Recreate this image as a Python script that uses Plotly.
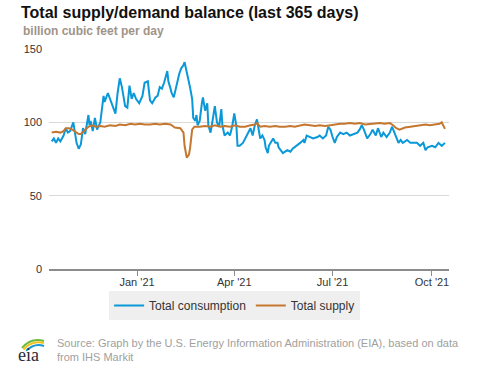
import plotly.graph_objects as go

# ---------------- data ----------------
consumption_dates = [
    "2020-10-14", "2020-10-16", "2020-10-18", "2020-10-20", "2020-10-22", "2020-10-25",
    "2020-10-27", "2020-10-29", "2020-10-31", "2020-11-03", "2020-11-06", "2020-11-08",
    "2020-11-10", "2020-11-12", "2020-11-14", "2020-11-17", "2020-11-18", "2020-11-19",
    "2020-11-21", "2020-11-23", "2020-11-25", "2020-11-28", "2020-12-01", "2020-12-02",
    "2020-12-05", "2020-12-08", "2020-12-12", "2020-12-14", "2020-12-16", "2020-12-18",
    "2020-12-21", "2020-12-23", "2020-12-25", "2020-12-27", "2020-12-29", "2020-12-31",
    "2021-01-03", "2021-01-06", "2021-01-08", "2021-01-11", "2021-01-13", "2021-01-15",
    "2021-01-18", "2021-01-20", "2021-01-22", "2021-01-24", "2021-01-26", "2021-01-29",
    "2021-01-30", "2021-02-01", "2021-02-02", "2021-02-04", "2021-02-07", "2021-02-09",
    "2021-02-11", "2021-02-13", "2021-02-14", "2021-02-16", "2021-02-17", "2021-02-19",
    "2021-02-21", "2021-02-22", "2021-02-24", "2021-02-25", "2021-02-26", "2021-02-28",
    "2021-03-02", "2021-03-03", "2021-03-05", "2021-03-07", "2021-03-08", "2021-03-10",
    "2021-03-11", "2021-03-14", "2021-03-16", "2021-03-18", "2021-03-20", "2021-03-21",
    "2021-03-23", "2021-03-26", "2021-03-28", "2021-03-30", "2021-04-01", "2021-04-03",
    "2021-04-04", "2021-04-06", "2021-04-09", "2021-04-13", "2021-04-16", "2021-04-18",
    "2021-04-20", "2021-04-22", "2021-04-23", "2021-04-25", "2021-04-27", "2021-04-29",
    "2021-04-30", "2021-05-02", "2021-05-03", "2021-05-06", "2021-05-07", "2021-05-09",
    "2021-05-11", "2021-05-12", "2021-05-15", "2021-05-16", "2021-05-20", "2021-05-23",
    "2021-05-25", "2021-05-29", "2021-06-01", "2021-06-04", "2021-06-05", "2021-06-07",
    "2021-06-10", "2021-06-13", "2021-06-17", "2021-06-19", "2021-06-22", "2021-06-25",
    "2021-06-27", "2021-06-29", "2021-07-01", "2021-07-03", "2021-07-05", "2021-07-08",
    "2021-07-11", "2021-07-14", "2021-07-17", "2021-07-20", "2021-07-24", "2021-07-26",
    "2021-07-28", "2021-07-30", "2021-08-02", "2021-08-05", "2021-08-07", "2021-08-10",
    "2021-08-12", "2021-08-15", "2021-08-17", "2021-08-20", "2021-08-23", "2021-08-25",
    "2021-08-26", "2021-08-29", "2021-08-31", "2021-09-02", "2021-09-04", "2021-09-08",
    "2021-09-11", "2021-09-13", "2021-09-17", "2021-09-20", "2021-09-23", "2021-09-25",
    "2021-09-27", "2021-10-01", "2021-10-04", "2021-10-07", "2021-10-10", "2021-10-13",
]
consumption_values = [
    87, 89, 86, 89, 87, 91,
    96, 93, 94, 100, 86, 82,
    85, 96, 92, 105, 98, 101,
    94, 103, 95, 100, 118, 114,
    120, 114, 106, 120, 130, 124,
    111, 110, 125, 116, 120, 116,
    113, 118, 127, 128, 115, 113,
    117, 118, 124, 123, 127, 135,
    128, 123, 120, 117, 127, 133,
    137, 139, 141, 135, 131, 124,
    116, 103, 101, 105, 98, 101,
    113, 117, 108, 113, 98, 93,
    97, 111, 100, 97, 109, 98,
    91, 93, 91, 97, 106, 97,
    84, 84, 86, 92, 96, 91,
    98, 102, 97, 89, 91, 88,
    83, 79, 84, 88, 89, 86,
    86, 83, 80, 79, 81, 80,
    82, 84, 86, 88, 86, 91,
    90, 89, 90, 91, 89, 91,
    97, 95, 90, 86, 90, 93,
    92, 93, 91, 92, 93, 95,
    98, 95, 89, 92, 95, 91,
    96, 90, 93, 90, 93, 97,
    95, 89, 86, 88, 86, 88,
    86, 86, 86, 84, 86, 81,
    83, 84, 83, 86, 84, 86,
]

supply_dates = [
    "2020-10-14", "2020-10-18", "2020-10-22", "2020-10-25", "2020-10-27", "2020-10-30",
    "2020-11-02", "2020-11-06", "2020-11-08", "2020-11-10", "2020-11-13", "2020-11-17",
    "2020-11-20", "2020-11-24", "2020-11-28", "2020-12-02", "2020-12-07", "2020-12-12",
    "2020-12-16", "2020-12-21", "2020-12-26", "2020-12-30", "2021-01-04", "2021-01-08",
    "2021-01-13", "2021-01-18", "2021-01-22", "2021-01-27", "2021-02-01", "2021-02-05",
    "2021-02-10", "2021-02-13", "2021-02-14", "2021-02-16", "2021-02-18", "2021-02-19",
    "2021-02-21", "2021-02-23", "2021-02-28", "2021-03-05", "2021-03-10", "2021-03-14",
    "2021-03-19", "2021-03-23", "2021-03-28", "2021-04-02", "2021-04-06", "2021-04-11",
    "2021-04-16", "2021-04-20", "2021-04-22", "2021-04-25", "2021-04-29", "2021-05-04",
    "2021-05-09", "2021-05-13", "2021-05-18", "2021-05-23", "2021-05-27", "2021-06-01",
    "2021-06-05", "2021-06-10", "2021-06-15", "2021-06-19", "2021-06-24", "2021-06-29",
    "2021-07-03", "2021-07-08", "2021-07-12", "2021-07-17", "2021-07-22", "2021-07-26",
    "2021-07-31", "2021-08-05", "2021-08-09", "2021-08-14", "2021-08-18", "2021-08-23",
    "2021-08-26", "2021-08-29", "2021-09-01", "2021-09-06", "2021-09-11", "2021-09-15",
    "2021-09-20", "2021-09-25", "2021-09-29", "2021-10-04", "2021-10-08", "2021-10-10",
    "2021-10-12", "2021-10-13",
]
supply_values = [
    93, 93.5, 93, 94, 96, 96,
    95, 93, 92, 92, 94, 97,
    98, 97, 97.5, 97, 98, 97.5,
    98.5, 98, 99, 98.5, 99, 98.5,
    98.5, 99, 98.5, 99, 98.5, 96.5,
    96, 93, 84, 76, 78, 82,
    95, 97, 97, 97.5, 97, 98,
    97, 97.5, 97, 98, 97, 97,
    98, 98.5, 99.5, 97, 97.5, 97,
    97.5, 97, 97, 97.5, 97, 98,
    98.5, 98, 97.5, 98, 97.5, 98,
    98.5, 99, 99, 99.5, 99, 99.5,
    98.5, 99, 99, 99.5, 99, 99.5,
    98, 96, 95, 96.5, 97, 97.5,
    98, 98.5, 98, 98.5, 99, 100,
    97, 95.5,
]

series_names = ["Total consumption", "Total supply"]
series_colors = ["#0a98d8", "#c5772f"]

y_ticks = [0, 50, 100, 150]
x_tick_dates = ["2021-01-01", "2021-04-01", "2021-07-01", "2021-10-01"]
x_tick_labels = ["Jan '21", "Apr '21", "Jul '21", "Oct '21"]

title_text = "Total supply/demand balance (last 365 days)"
unit_text = "billion cubic feet per day"
source_text = ("Source: Graph by the U.S. Energy Information Administration (EIA), based on data"
               "<br>from IHS Markit")

# ---------------- figure ----------------
fig = go.Figure()
fig.add_trace(go.Scatter(x=consumption_dates, y=consumption_values, mode="lines",
                         name=series_names[0],
                         line=dict(color=series_colors[0], width=2)))
fig.add_trace(go.Scatter(x=supply_dates, y=supply_values, mode="lines",
                         name=series_names[1],
                         line=dict(color=series_colors[1], width=2)))

FONT = "Liberation Sans, Arial, sans-serif"

fig.update_layout(
    width=477, height=367,
    margin=dict(l=49, r=28, t=49, b=98, pad=0),
    paper_bgcolor="white", plot_bgcolor="white",
    font=dict(family=FONT, size=11, color="#333333"),
    showlegend=True,
    legend=dict(orientation="h", x=0.464, xanchor="center", y=-0.1, yanchor="top",
                bgcolor="#efefef", font=dict(size=12, color="#333333"),
                itemwidth=30, tracegroupgap=0),
    xaxis=dict(type="date", range=["2020-10-11 12:00", "2021-10-16 18:00"],
               tickvals=x_tick_dates, ticktext=x_tick_labels,
               showgrid=False, zeroline=False,
               showline=True, linecolor="#8c8c8c", linewidth=2,
               ticks="outside", ticklen=5, tickcolor="#8c8c8c", tickwidth=1,
               ticklabelstandoff=-3,
               tickfont=dict(size=11, color="#333333")),
    yaxis=dict(range=[0, 150], tickvals=y_ticks, showgrid=True,
               gridcolor="#d9d9d9", gridwidth=1, zeroline=False, showline=False,
               ticks="", ticklabelstandoff=6,
               tickfont=dict(size=11, color="#333333")),
    hovermode=False,
)

annotations = [
    dict(text="<b>" + title_text + "</b>", xref="paper", yref="paper",
         x=-0.075, y=1.168, xanchor="left", yanchor="middle", showarrow=False,
         font=dict(size=16, color="#111111", family=FONT)),
    dict(text="<b>" + unit_text + "</b>", xref="paper", yref="paper",
         x=-0.07, y=1.082, xanchor="left", yanchor="middle", showarrow=False,
         font=dict(size=12, color="#a09488", family=FONT)),
    dict(text=source_text, xref="paper", yref="paper", align="left",
         x=0.015, y=-0.368, xanchor="left", yanchor="middle", showarrow=False,
         font=dict(size=11, color="#a0a0a0", family=FONT)),
    dict(text="eia", xref="paper", yref="paper", borderpad=0,
         x=-0.051, y=-0.392, xanchor="center", yanchor="middle", showarrow=False,
         font=dict(size=18, color="#2a2a3a", family="Liberation Serif, DejaVu Serif, serif")),
]
fig.update_layout(annotations=annotations)

shapes = [
    dict(type="path", xref="paper", yref="paper",
         path="M -0.0675,-0.359 Q -0.045,-0.310 -0.0125,-0.327",
         line=dict(color="#6fb83f", width=2)),
    dict(type="path", xref="paper", yref="paper",
         path="M -0.064,-0.366 Q -0.042,-0.322 -0.0125,-0.337",
         line=dict(color="#f2c31b", width=2)),
    dict(type="path", xref="paper", yref="paper",
         path="M -0.0575,-0.372 Q -0.036,-0.334 -0.0125,-0.35",
         line=dict(color="#1a9ad6", width=2)),
]
fig.update_layout(shapes=shapes)

fig.write_html("out.html", config={"displayModeBar": False},
               post_script="document.body.style.margin='0';document.body.style.overflow='hidden';")
